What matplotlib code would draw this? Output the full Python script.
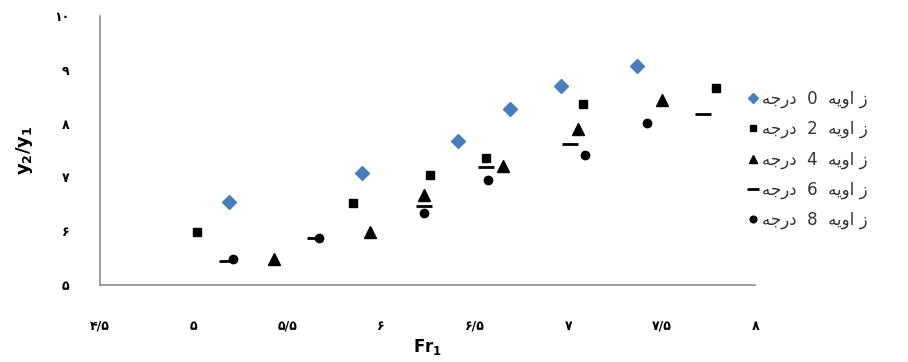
import matplotlib.pyplot as plt

# Fr1 / (y2/y1) values
x_a0 = [5.19, 5.90, 6.41, 6.69, 6.96, 7.37]
y_a0 = [6.54, 7.08, 7.68, 8.27, 8.70, 9.07]
x_a2 = [5.02, 5.85, 6.26, 6.56, 7.08, 7.79]
y_a2 = [5.99, 6.52, 7.04, 7.36, 8.36, 8.66]
x_a4 = [5.43, 5.94, 6.23, 6.65, 7.05, 7.50]
y_a4 = [5.48, 5.99, 6.67, 7.21, 7.90, 8.44]
x_a6 = [5.18, 5.65, 6.23, 6.56, 7.01, 7.72]
y_a6 = [5.45, 5.87, 6.47, 7.19, 7.62, 8.18]
x_a8 = [5.21, 5.67, 6.23, 6.57, 7.09, 7.42]
y_a8 = [5.48, 5.87, 6.34, 6.95, 7.42, 8.01]

# Persian legend text, pre-shaped (presentation forms, visual order)
deg = "\uFEEA\uFE9F\uFEAD\uFEA9"      # درجه
zavie = "\uFEEA\uFEF3\uFEED\uFE8D \uFEAF"  # زاویه
labels = [deg + "  " + a + "  " + zavie for a in ["0", "2", "4", "6", "8"]]

xticks = [4.5, 5, 5.5, 6, 6.5, 7, 7.5, 8]
xticklabels = ["۴/۵", "۵", "۵/۵", "۶", "۶/۵", "۷", "۷/۵", "۸"]
yticks = [5, 6, 7, 8, 9, 10]
yticklabels = ["۵", "۶", "۷", "۸", "۹", "۱۰"]

fig = plt.figure(figsize=(9.08, 3.62), dpi=100)
ax = fig.add_axes([0.110, 0.213, 0.722, 0.743])

ax.plot(x_a0, y_a0, 'D', color='#4a7ebb', ms=7, ls='none', label=labels[0])
ax.plot(x_a2, y_a2, 's', color='black', ms=6, ls='none', label=labels[1])
ax.plot(x_a4, y_a4, '^', color='black', ms=8, ls='none', label=labels[2])
ax.plot(x_a6, y_a6, '_', color='black', ms=11, mew=2, ls='none', label=labels[3])
ax.plot(x_a8, y_a8, 'o', color='black', ms=6, ls='none', label=labels[4])

ax.set_xlim(4.5, 8)
ax.set_ylim(5, 10)
ax.set_xticks(xticks)
ax.set_xticklabels(xticklabels, fontsize=9, fontweight='bold')
ax.set_yticks(yticks)
ax.set_yticklabels(yticklabels, fontsize=9, fontweight='bold')
ax.tick_params(length=0)
ax.tick_params(axis='y', pad=22)
ax.tick_params(axis='x', pad=25)

for s in ['top', 'right']:
    ax.spines[s].set_visible(False)
for s in ['left', 'bottom']:
    ax.spines[s].set_color('#8c8c8c')
    ax.spines[s].set_linewidth(1.2)

ax.set_xlabel(r'$\mathbf{Fr_1}$', fontsize=12, labelpad=3)
ax.set_ylabel(r'$\mathbf{y_2/y_1}$', fontsize=13, labelpad=14)

ax.legend(loc='upper left', bbox_to_anchor=(0.975, 0.75), frameon=False,
          fontsize=12, handletextpad=0.1, labelspacing=0.72, handlelength=0.85,
          borderaxespad=0, labelcolor='#333333', markerscale=0.8)

fig.savefig('out.png', dpi=100)
